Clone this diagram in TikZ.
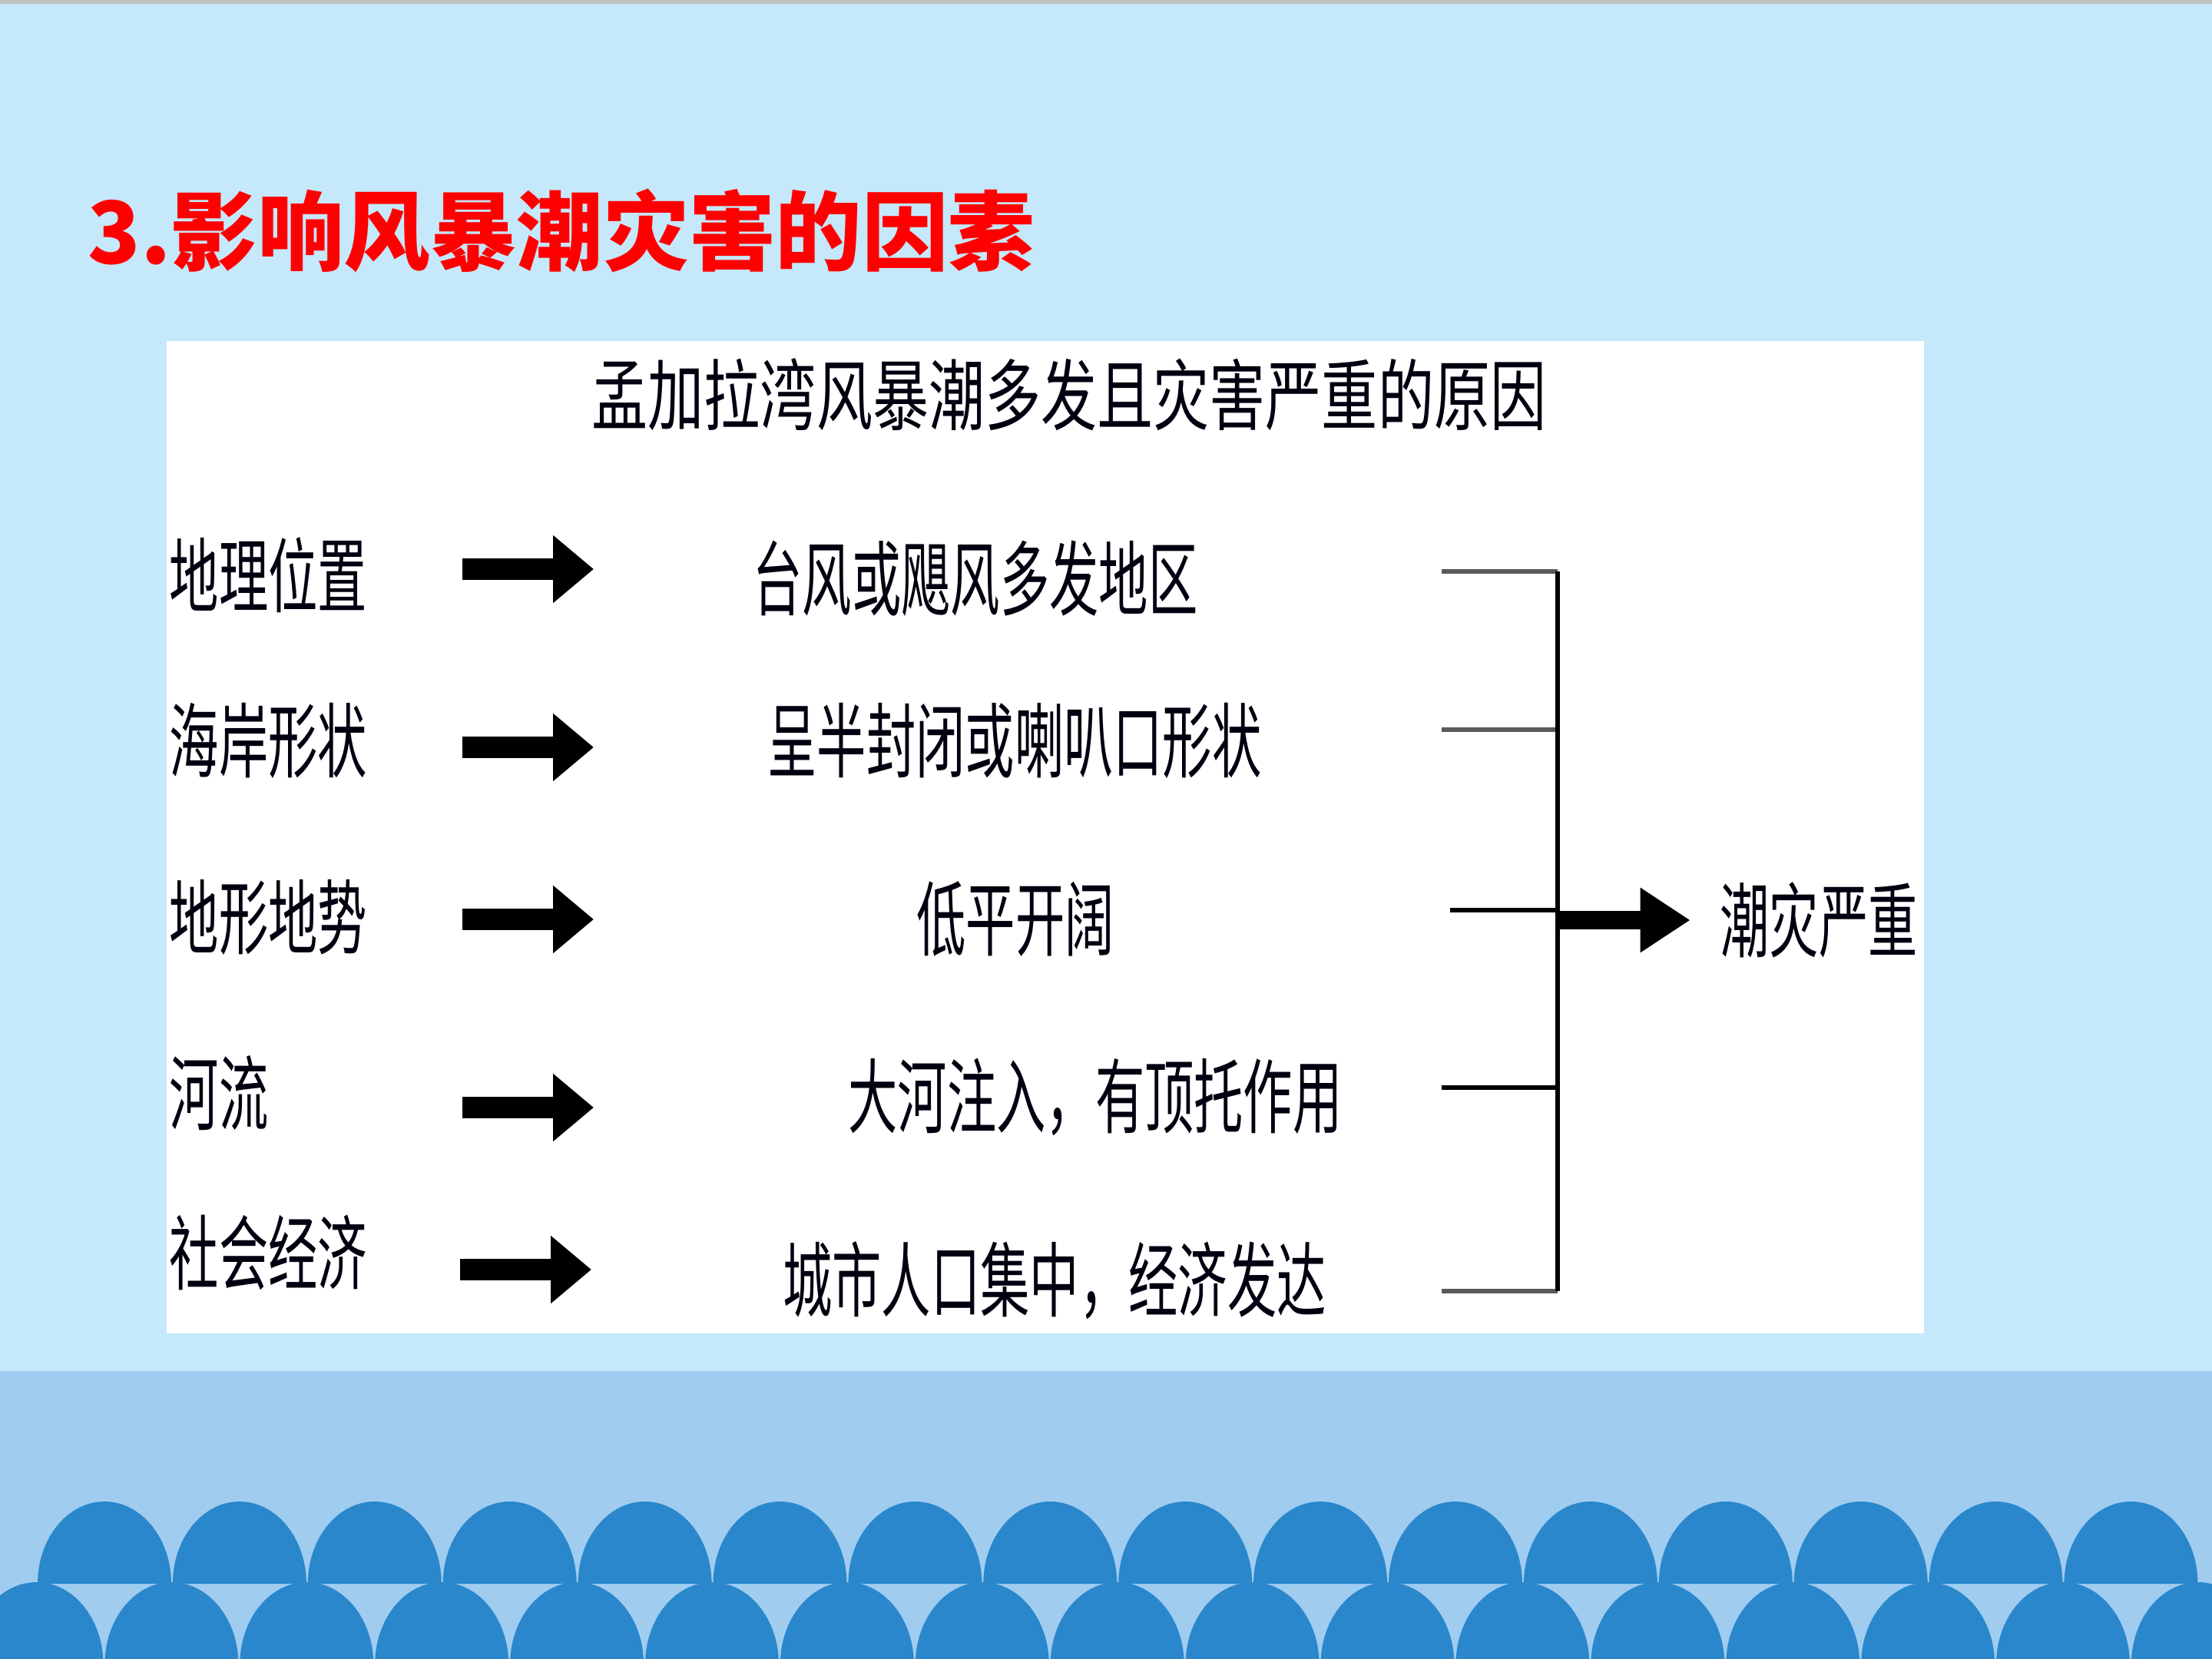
\documentclass[tikz,border=0pt]{standalone}
\usepackage{fontspec}
\usepackage{graphicx}
\usepackage{xcolor}
\usepackage{tikz}
\usetikzlibrary{arrows.meta, positioning}
\newfontfamily\cjk{Noto Sans CJK SC}
\definecolor{skyback}{RGB}{197,232,250}
\definecolor{seaband}{RGB}{160,204,240}
\definecolor{wavebl}{RGB}{42,135,203}
\definecolor{topgray}{RGB}{192,192,192}
\definecolor{inkdark}{RGB}{0,0,16}
\definecolor{linegray}{RGB}{90,90,90}
\newcommand{\tallcn}[1]{\scalebox{1}[1.65]{#1}}
\newcommand{\headcn}[1]{\scalebox{1}[1.38]{#1}}

\begin{document}
\begin{tikzpicture}[
        factor/.style={anchor=west, inner sep=0pt, text=inkdark, font=\cjk\fontsize{18.3}{20}\selectfont},
        reason/.style={inner sep=0pt, text=inkdark, font=\cjk\fontsize{18.3}{20}\selectfont},
        fat/.style={-{Triangle[length=5.3mm, width=8.5mm]}, line width=2.8mm, black},
        fatout/.style={-{Triangle[length=6.5mm, width=8mm]}, line width=2.4mm, black},
        brline/.style={line width=0.55mm, #1},
        brline/.default=black,
        wave/.style={fill=wavebl}
    ]
    \useasboundingbox (0,0) rectangle (28.8,-21.6);

    % Background: sky, sea band, waves
    \fill[skyback] (0,0) rectangle (28.8,-21.6);
    \fill[topgray] (0,0) rectangle (28.8,-0.05);
    \fill[seaband] (0,-17.85) rectangle (28.8,-21.6);
    \foreach \k in {0,...,15}
        \fill[wave] ({1.36+1.759*\k-0.87},-20.62) arc[start angle=180, end angle=0, x radius=0.87, y radius=1.07] -- cycle;
    \foreach \k in {0,...,16}
        \fill[wave] ({0.475+1.759*\k-0.87},-21.67) arc[start angle=180, end angle=0, x radius=0.87, y radius=1.07] -- cycle;

    % Title and white panel
    \node[anchor=west, inner sep=0pt, text=red, font=\cjk\bfseries\fontsize{32}{36}\selectfont] (title) at (1.14,-3.0) {3.影响风暴潮灾害的因素};
    \fill[white] (2.17,-4.44) rectangle (25.05,-17.36);
    \node[reason, font=\cjk\fontsize{20.8}{24}\selectfont] (head) at (13.92,-5.14) {\headcn{孟加拉湾风暴潮多发且灾害严重的原因}};

    % Column 1: factors
    \node[factor] (geo) at (2.20,-7.49) {\tallcn{地理位置}};
    \node[factor] (coast) at (2.20,-9.64) {\tallcn{海岸形状}};
    \node[factor] (terrain) at (2.20,-11.94) {\tallcn{地形地势}};
    \node[factor] (river) at (2.20,-14.23) {\tallcn{河流}};
    \node[factor] (social) at (2.20,-16.31) {\tallcn{社会经济}};

    % Column 2: reasons
    \node[reason] (geo_r) at (12.70,-7.53) {\tallcn{台风或飓风多发地区}};
    \node[reason] (coast_r) at (13.21,-9.64) {\tallcn{呈半封闭或喇叭口形状}};
    \node[reason] (terrain_r) at (13.22,-11.96) {\tallcn{低平开阔}};
    \node[reason] (river_r) at (14.26,-14.28) {\tallcn{大河注入，有顶托作用}};
    \node[reason] (social_r) at (13.73,-16.67) {\tallcn{城市人口集中，经济发达}};

    % Result
    \node[reason] (severe) at (23.68,-11.98) {\tallcn{潮灾严重}};

    % Factor arrows
    \coordinate (geo_a) at (6.02,-7.41);
    \coordinate (geo_b) at (7.73,-7.41);
    \coordinate (coast_a) at (6.02,-9.73);
    \coordinate (coast_b) at (7.73,-9.73);
    \coordinate (terrain_a) at (6.02,-11.97);
    \coordinate (terrain_b) at (7.73,-11.97);
    \coordinate (river_a) at (6.02,-14.42);
    \coordinate (river_b) at (7.73,-14.42);
    \coordinate (social_a) at (5.99,-16.53);
    \coordinate (social_b) at (7.70,-16.53);
    \draw[fat] (geo_a) -- (geo_b);
    \draw[fat] (coast_a) -- (coast_b);
    \draw[fat] (terrain_a) -- (terrain_b);
    \draw[fat] (river_a) -- (river_b);
    \draw[fat] (social_a) -- (social_b);

    % Bracket
    \coordinate (b1) at (18.77,-7.44);
    \coordinate (b2) at (18.77,-9.50);
    \coordinate (b3) at (18.88,-11.85);
    \coordinate (b4) at (18.77,-14.16);
    \coordinate (b5) at (18.77,-16.81);
    \coordinate (j1) at (20.28,-7.44);
    \coordinate (j2) at (20.28,-9.50);
    \coordinate (j3) at (20.28,-11.85);
    \coordinate (j4) at (20.28,-14.16);
    \coordinate (j5) at (20.28,-16.81);
    \coordinate (jout) at (20.28,-11.98);
    \draw[brline=linegray] (b1) -- (j1);
    \draw[brline=linegray] (b2) -- (j2);
    \draw[brline] (b3) -- (j3);
    \draw[brline] (b4) -- (j4);
    \draw[brline=linegray] (b5) -- (j5);
    \draw[brline] (j1) -- (j5);
    \draw[fatout, shorten >=0.38cm] (jout) -- (severe);

\end{tikzpicture}
\end{document}
